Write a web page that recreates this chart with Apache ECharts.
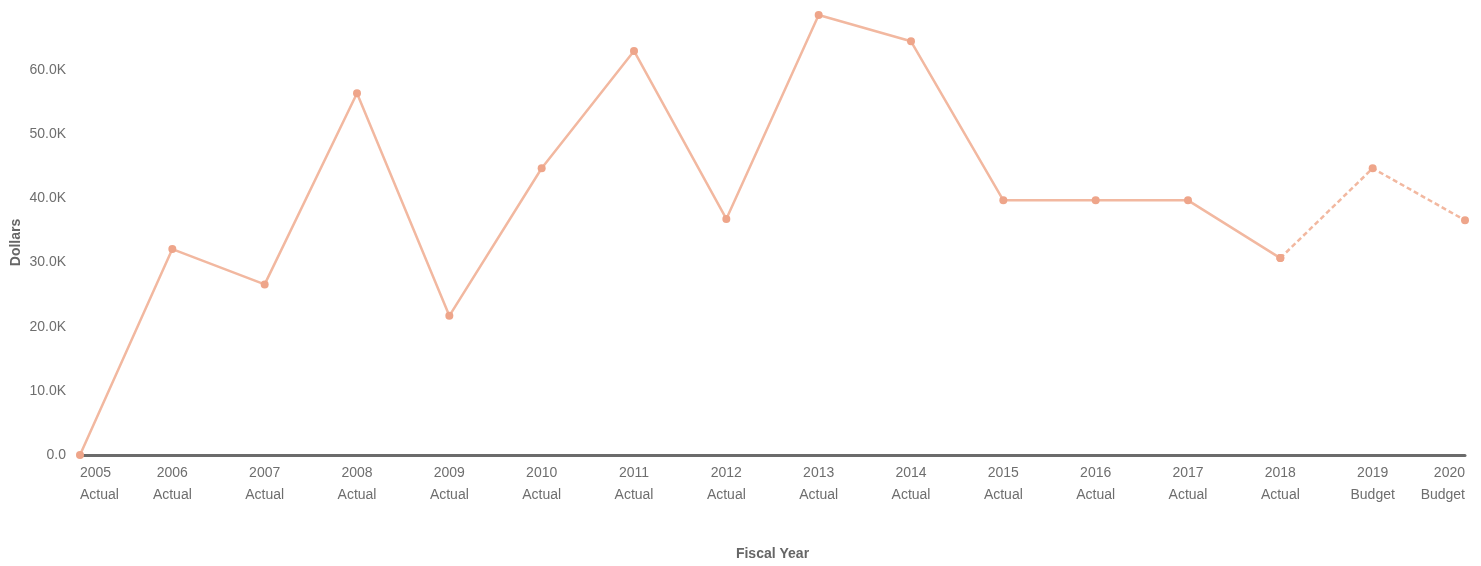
<!DOCTYPE html>
<html>
<head>
<meta charset="utf-8">
<script src="https://cdn.jsdelivr.net/npm/echarts@6/dist/echarts.min.js"></script>
<style>
  html, body { margin: 0; padding: 0; background: #fff; }
  #chart { width: 1481px; height: 566px; }
</style>
</head>
<body>
<div id="chart"></div>
<script>
// Fiscal years with their status
const years = ['2005','2006','2007','2008','2009','2010','2011','2012','2013','2014','2015','2016','2017','2018','2019','2020'];
const kinds = ['Actual','Actual','Actual','Actual','Actual','Actual','Actual','Actual','Actual','Actual','Actual','Actual','Actual','Actual','Budget','Budget'];
// Dollars per fiscal year (actual figures, then budgeted figures)
const actualValues = [0, 32100, 26600, 56400, 21700, 44700, 63000, 36800, 68600, 64500, 39700, 39700, 39700, 30700, null, null];
const budgetValues = [null, null, null, null, null, null, null, null, null, null, null, null, null, 30700, 44700, 36600];

const categories = years.map((y, i) => y + '\n' + kinds[i]);

const lineColor = '#f2b8a0';
const markerColor = '#eea58a';
const font = '"Liberation Sans Narrow", "Liberation Sans", Arial, sans-serif';

const chart = echarts.init(document.getElementById('chart'));
chart.setOption({
  animation: false,
  grid: { left: 80, right: 16, top: 6, bottom: 111, containLabel: false, outerBoundsMode: 'none' },
  xAxis: {
    type: 'category',
    data: categories,
    boundaryGap: false,
    name: 'Fiscal Year',
    nameLocation: 'middle',
    nameGap: 92,
    nameMoveOverlap: false,
    nameTextStyle: { color: '#666', fontSize: 14, fontWeight: 'bold', fontFamily: font },
    axisLine: { lineStyle: { color: '#6b6b6b', width: 3 } },
    axisTick: { show: false },
    axisLabel: {
      color: '#6e6e6e', fontSize: 14, fontFamily: font, lineHeight: 22, margin: 7,
      interval: 0, alignMinLabel: 'left', alignMaxLabel: 'right'
    },
    splitLine: { show: false }
  },
  yAxis: {
    type: 'value',
    min: 0,
    max: 70000,
    interval: 10000,
    name: 'Dollars',
    nameLocation: 'middle',
    nameGap: 57,
    nameMoveOverlap: false,
    nameTextStyle: { color: '#666', fontSize: 14, fontWeight: 'bold', fontFamily: font, padding: [0, 24, 0, 0] },
    axisLine: { show: false },
    axisTick: { show: false },
    splitLine: { show: false },
    axisLabel: {
      color: '#6e6e6e', fontSize: 14, fontFamily: font, margin: 14,
      formatter: v => v >= 70000 ? '' : (v === 0 ? '0.0' : (v / 1000).toFixed(1) + 'K')
    }
  },
  series: [
    {
      type: 'line',
      data: actualValues,
      symbol: 'circle',
      symbolSize: 8,
      lineStyle: { color: lineColor, width: 2.5 },
      itemStyle: { color: markerColor },
      clip: false,
      z: 3
    },
    {
      type: 'line',
      data: budgetValues,
      symbol: 'circle',
      symbolSize: 8,
      lineStyle: { color: lineColor, width: 2.5, type: [5, 3] },
      itemStyle: { color: markerColor },
      clip: false,
      z: 2
    }
  ]
});
</script>
</body>
</html>
